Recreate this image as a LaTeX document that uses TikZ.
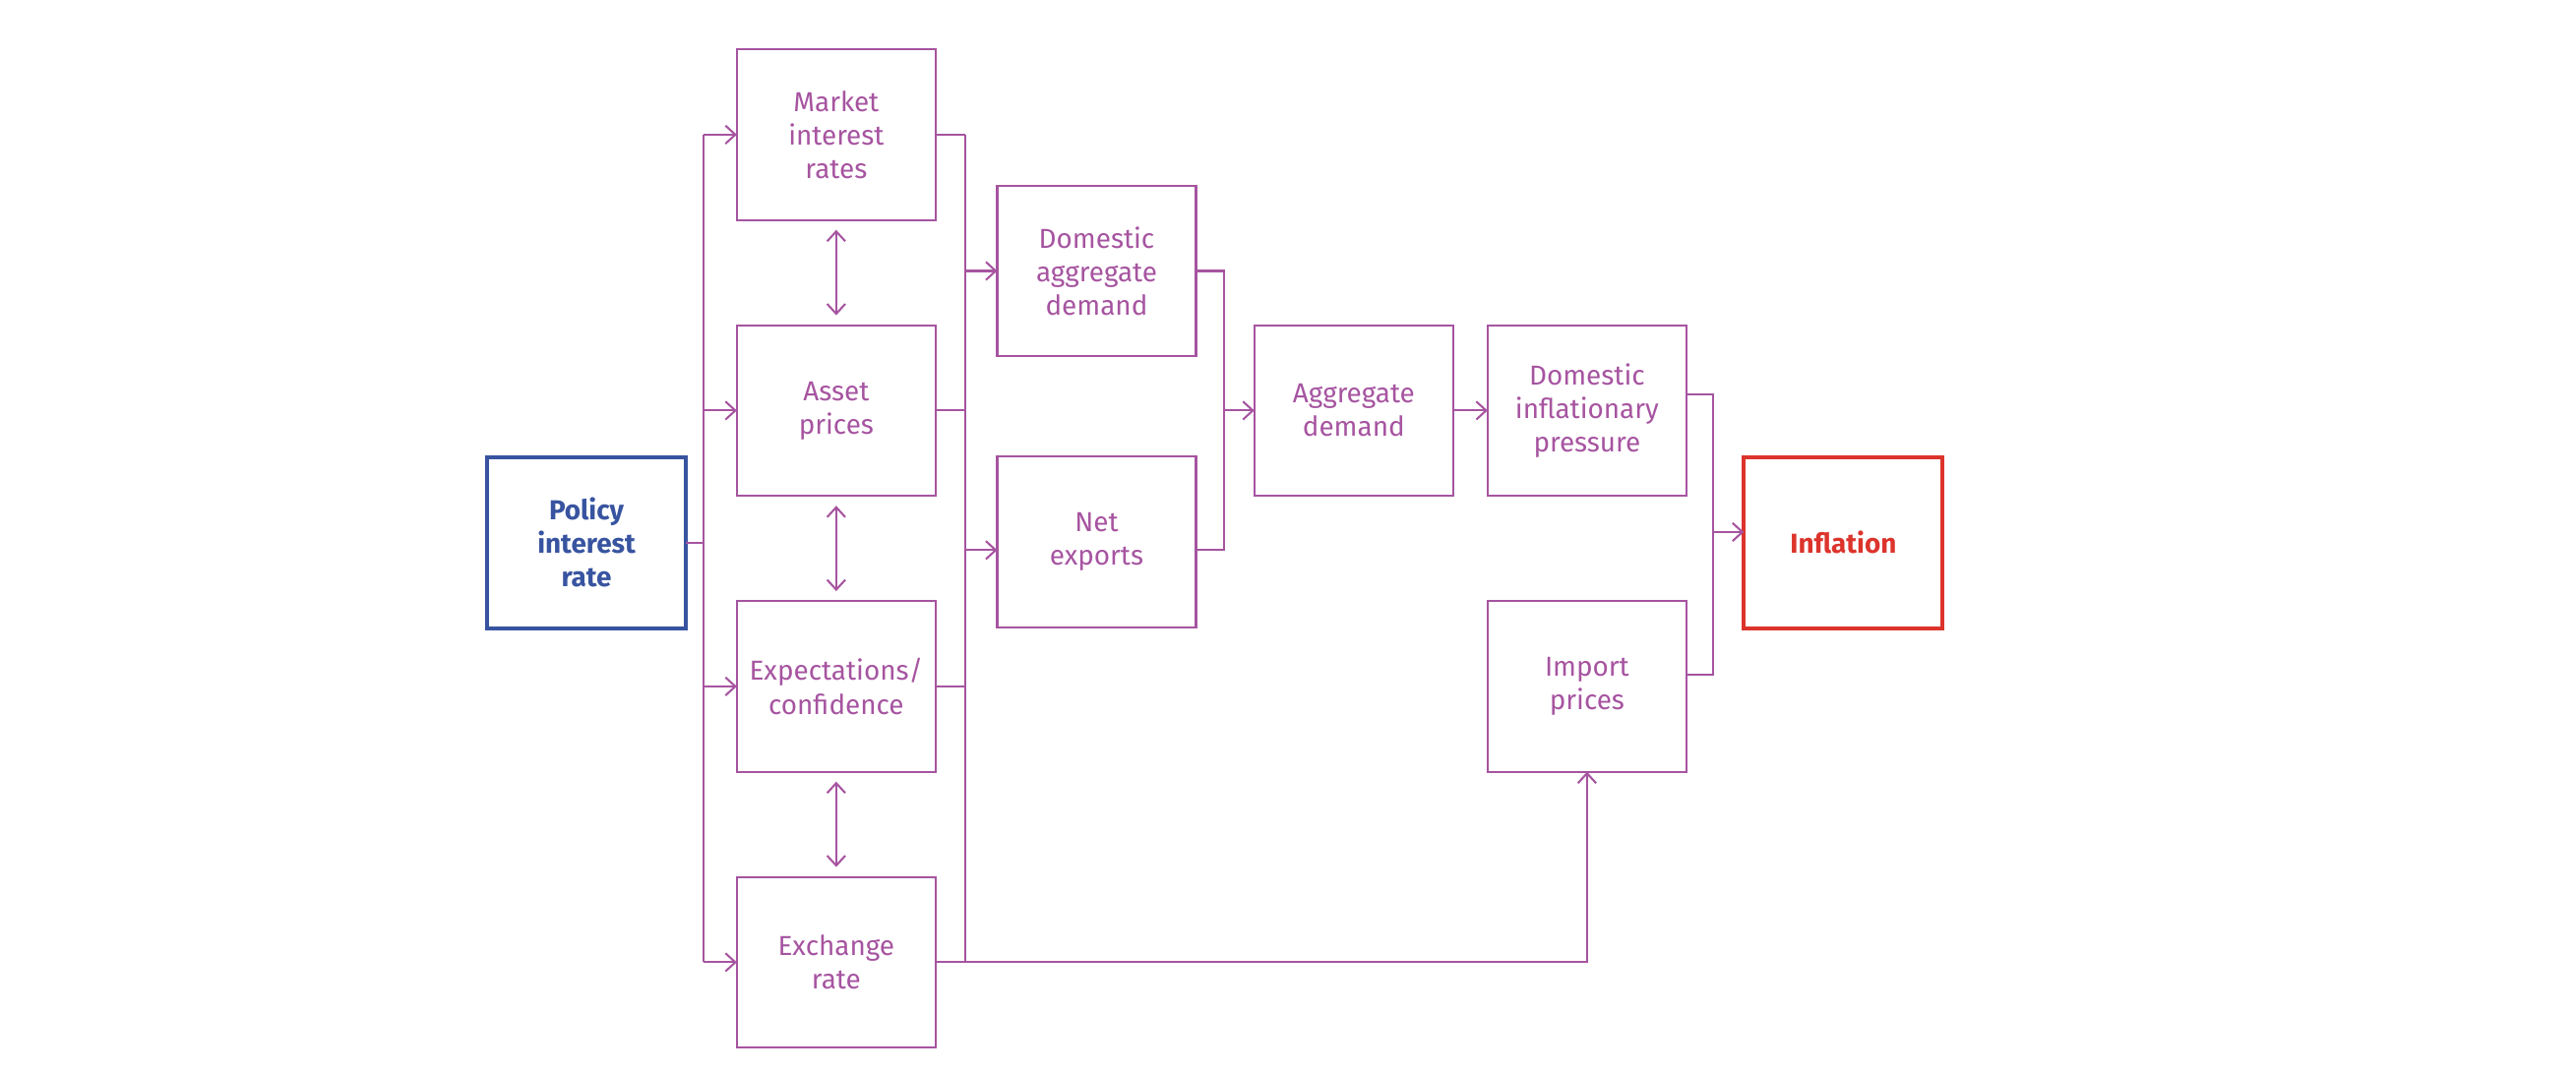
\documentclass[tikz,border=0pt]{standalone}
\usepackage{fontspec}
\setmainfont{Fira Sans}
\usepackage{xcolor}
\usepackage{tikz}
\usetikzlibrary{arrows.meta,positioning}

\definecolor{chanpurple}{RGB}{166,84,160}
\definecolor{chanblue}{RGB}{56,84,160}
\definecolor{chanred}{RGB}{220,52,44}

\tikzset{
  box/.style={draw=chanpurple, rectangle, line width=0.7pt, text=chanpurple, align=center,
    minimum width=2.42cm, minimum height=2.08cm, inner sep=0pt, outer sep=0pt,
    font=\fontsize{9.5}{11.6}\selectfont},
  keybox/.style={box, line width=1.4pt, font=\fontsize{9.5}{11.6}\selectfont\bfseries},
  link/.style={draw=chanpurple, line width=0.7pt}
}

\begin{document}
\begin{tikzpicture}[node distance=1.28cm, >={Straight Barb[length=1.2mm,width=2.2mm]}]
  \useasboundingbox (0,0) rectangle (31.36,-13.06);

  \node[keybox, draw=chanblue, text=chanblue] (policy) at (7.14,-6.61) {Policy\\interest\\rate};
  \node[box, right=0.62cm of policy, yshift=4.97cm] (market) {Market\\interest\\rates};
  \node[box, below=of market] (asset) {Asset\\prices};
  \node[box, below=of asset] (expect) {Expectations/\\confidence};
  \node[box, below=of expect] (exchange) {Exchange\\rate};
  \node[box] (dad) at (13.35,-3.3) {Domestic\\aggregate\\demand};
  \node[box, below=1.22cm of dad] (netexp) {Net\\exports};
  \node[box, right=3.88cm of asset] (ad) {Aggregate\\demand};
  \node[box, right=0.42cm of ad] (dip) {Domestic\\inflationary\\pressure};
  \node[box, below=of dip] (import) {Import\\prices};
  \node[keybox, draw=chanred, text=chanred, right=0.7cm of dip, yshift=-1.61cm] (inflation) {Inflation};

  \draw[link] (policy) -- ([xshift=0.22cm]policy.east) coordinate (split);
  \draw[link] (split |- market) -- (split |- exchange);
  \foreach \n in {market,asset,expect,exchange}
    \draw[link,->] (split |- \n) -- (\n);
  \foreach \a/\b in {market/asset,asset/expect,expect/exchange}
    \draw[link,<->,shorten <=1.2mm,shorten >=1.2mm] (\a) -- (\b);

  \coordinate (join) at ([xshift=0.36cm]market.east);
  \foreach \n in {market,asset,expect}
    \draw[link] (\n) -- (join |- \n);
  \draw[link] (join |- market) -- (join |- exchange);
  \draw[link,->] (exchange) -| (import);
  \draw[link,->] (join |- dad) -- (dad);
  \draw[link,->] ([yshift=-1mm]join |- netexp) -- ([yshift=-1mm]netexp.west);

  \coordinate (join2) at ([xshift=0.34cm]dad.east);
  \draw[link] (dad) -- (join2 |- dad) -- ([yshift=-1mm]join2 |- netexp) -- ([yshift=-1mm]netexp.east);
  \draw[link,->] (join2 |- ad) -- (ad);
  \draw[link,->] (ad) -- (dip);

  \coordinate (join3) at ([xshift=0.32cm]dip.east);
  \draw[link] ([yshift=2mm]dip.east) -- ([yshift=2mm]join3) -- ([yshift=1.4mm]join3 |- import) -- ([yshift=1.4mm]import.east);
  \draw[link,->] ([yshift=1.3mm]join3 |- inflation) -- ([yshift=1.3mm]inflation.west);
\end{tikzpicture}
\end{document}
